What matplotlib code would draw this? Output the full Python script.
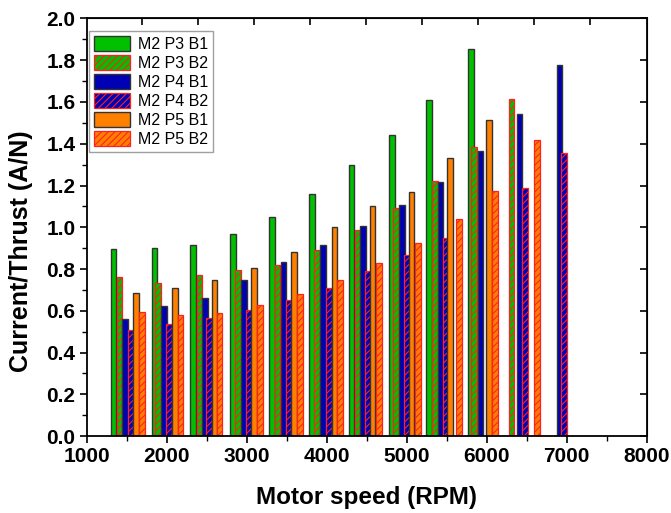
import numpy as np
import matplotlib
matplotlib.use('Agg')
import matplotlib.pyplot as plt
from matplotlib.ticker import MultipleLocator

plt.rcParams['font.family'] = ['Liberation Sans', 'DejaVu Sans']
plt.rcParams['hatch.linewidth'] = 0.8

# motor speed (RPM) and current/thrust (A/N) for each prop / battery
rpm_p3_b1 = [1339, 1848, 2331, 2831, 3314, 3820, 4310, 4814, 5279, 5802]
val_p3_b1 = [0.896, 0.899, 0.915, 0.970, 1.051, 1.160, 1.296, 1.441, 1.608, 1.853]

rpm_p3_b2 = [1410, 1893, 2410, 2896, 3385, 3881, 4385, 4868, 5358, 5840, 6308]
val_p3_b2 = [0.760, 0.731, 0.770, 0.794, 0.821, 0.891, 0.989, 1.091, 1.221, 1.386, 1.614]

rpm_p4_b1 = [1481, 1966, 2477, 2964, 3463, 3954, 4456, 4939, 5425, 5925, 6410, 6908]
val_p4_b1 = [0.562, 0.621, 0.661, 0.749, 0.834, 0.913, 1.008, 1.107, 1.219, 1.367, 1.542, 1.779]

rpm_p4_b2 = [1550, 2031, 2533, 3033, 3525, 4027, 4516, 5004, 5485, 6481, 6966]
val_p4_b2 = [0.510, 0.538, 0.566, 0.606, 0.653, 0.707, 0.790, 0.869, 0.949, 1.189, 1.357]

rpm_p5_b1 = [1618, 2102, 2600, 3094, 3591, 4100, 4573, 5063, 5542, 6031]
val_p5_b1 = [0.686, 0.709, 0.749, 0.806, 0.882, 1.003, 1.101, 1.168, 1.331, 1.515]

rpm_p5_b2 = [1690, 2173, 2660, 3166, 3664, 4166, 4652, 5144, 5656, 6106, 6631]
val_p5_b2 = [0.594, 0.579, 0.589, 0.629, 0.680, 0.747, 0.830, 0.925, 1.038, 1.175, 1.418]

labels = ['M2 P3 B1', 'M2 P3 B2', 'M2 P4 B1', 'M2 P4 B2', 'M2 P5 B1', 'M2 P5 B2']
top_ticks = [1687.5, 2388, 3088.5, 3789, 4489.5, 5190, 5890.5, 6591, 7291.5]

series = [
    (rpm_p3_b1, val_p3_b1, '#00C000', False),
    (rpm_p3_b2, val_p3_b2, '#00C000', True),
    (rpm_p4_b1, val_p4_b1, '#0000B4', False),
    (rpm_p4_b2, val_p4_b2, '#0000B4', True),
    (rpm_p5_b1, val_p5_b1, '#FF8000', False),
    (rpm_p5_b2, val_p5_b2, '#FF8000', True),
]

fig = plt.figure(figsize=(6.71, 5.13), dpi=100)
ax = fig.add_axes([0.129, 0.150, 0.8348, 0.814])

width = 70
for (x, y, color, hatched), label in zip(series, labels):
    if hatched:
        ax.bar(x, y, width=width, color=color, edgecolor='#FF2020',
               linewidth=0.9, hatch='/////', label=label)
    else:
        ax.bar(x, y, width=width, color=color, edgecolor='#333333',
               linewidth=1.0, label=label)

ax.set_xlim(1000, 8000)
ax.set_ylim(0, 2.0)
ax.xaxis.set_major_locator(MultipleLocator(1000))
ax.xaxis.set_minor_locator(MultipleLocator(500))
ax.yaxis.set_major_locator(MultipleLocator(0.2))
ax.yaxis.set_minor_locator(MultipleLocator(0.1))
ax.yaxis.set_major_formatter(plt.FormatStrFormatter('%.1f'))

ax.tick_params(axis='both', which='major', direction='out', length=5,
               width=1.2, labelsize=15, pad=3, top=False, right=False)
ax.tick_params(axis='both', which='minor', direction='out', length=3.5,
               width=1.0, top=False, right=False)
for lab in ax.get_xticklabels() + ax.get_yticklabels():
    lab.set_fontweight('bold')

for sp in ax.spines.values():
    sp.set_linewidth(1.3)

# inward ticks on the opposite sides
ax_top = ax.secondary_xaxis('top')
ax_top.set_xticks(top_ticks)
ax_top.tick_params(direction='in', length=5, width=1.2, labeltop=False)
ax_right = ax.secondary_yaxis('right')
ax_right.set_yticks(np.arange(0, 2.01, 0.2))
ax_right.tick_params(direction='in', length=5, width=1.2, labelright=False)

ax.set_xlabel('Motor speed (RPM)', fontsize=17.5, fontweight='bold', labelpad=14)
ax.set_ylabel('Current/Thrust (A/N)', fontsize=18, fontweight='bold')
ax.yaxis.set_label_coords(-0.096, 0.443)

leg = ax.legend(loc='upper left', fontsize=11.5, frameon=True, fancybox=False,
                edgecolor='#888888', handlelength=2.3, handleheight=1.05,
                labelspacing=0.2, borderpad=0.3, handletextpad=0.5,
                bbox_to_anchor=(0.004, 0.97), borderaxespad=0)
leg.get_frame().set_linewidth(1.0)

plt.savefig('out.png', dpi=100)
